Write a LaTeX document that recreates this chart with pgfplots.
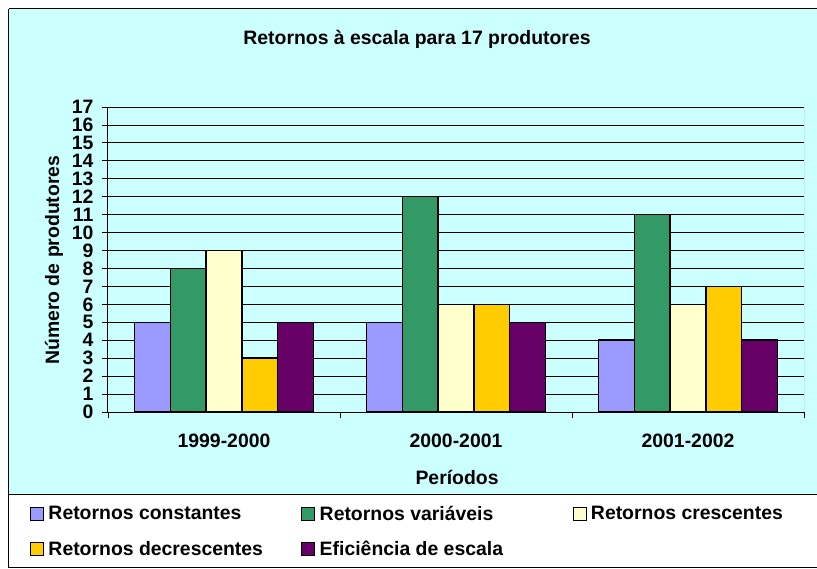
\documentclass[border=0pt]{standalone}
\usepackage{fontspec}
\setmainfont{Liberation Sans}
\usepackage{pgfplots}
\pgfplotsset{compat=1.18}
\definecolor{bg}{HTML}{CCFFFF}
\definecolor{c1}{HTML}{9999FF}
\definecolor{c2}{HTML}{339966}
\definecolor{c3}{HTML}{FFFFCC}
\definecolor{c4}{HTML}{FFCC00}
\definecolor{c5}{HTML}{660066}
\newcommand{\fs}{\fontsize{19.4}{22}\selectfont\bfseries}
\pgfplotsset{
  mybar/.style={fill=#1, draw=black, line width=1.5pt,
    legend image code/.code={\draw[fill=#1, draw=black, line width=1pt] (0pt,-6.5pt) rectangle (13pt,6.5pt); \path (15pt,0pt);}}
}
\begin{document}
\begin{tikzpicture}[x=1pt,y=1pt]
\useasboundingbox (-108,-156) rectangle (709,412);
\fill[bg] (-99,-82) rectangle (740,403);
\fill[white] (-99,-155) rectangle (740,-82);
\begin{axis}[
  at={(0,0)}, anchor=south west,
  scale only axis, width=696pt, height=305pt,
  ybar=0pt, bar width=0.154,
  xmin=0, xmax=3, ymin=0, ymax=17,
  ytick={0,...,17},
  xtick={0,1,2,3},
  x tick label as interval,
  xticklabels={1999-2000,2000-2001,2001-2002,},
  axis x line*=bottom, axis y line*=left,
  axis line style={-, black, line width=1pt},
  tick align=outside, major tick length=6pt,
  tick style={black, line width=0.8pt},
  ymajorgrids, grid style={black, line width=0.8pt},
  ticklabel style={font=\fs},
  /pgf/number format/assume math mode=true,
  yticklabel style={xshift=-5pt},
  xticklabel style={yshift=-12pt},
  title={Retornos à escala para 17 produtores},
  title style={at={(0.444,1.226)}, anchor=center, yshift=-7pt, font=\fs},
  xlabel={Períodos},
  xlabel style={at={(0.5015,-0.2066)}, anchor=center, yshift=-2pt, font=\fs},
  ylabel={Número de produtores},
  ylabel style={at={(-0.0805,0.498)}, anchor=center, yshift=-2pt, font=\fs},
  legend columns=3,
  legend cell align=left,
  legend style={at={(-0.112,-0.2885)}, anchor=north west, yshift=-4pt, draw=none, fill=none,
    font=\fs, column sep=0pt, row sep=15pt, inner sep=0pt},
]
\addplot[mybar=c1] coordinates {(0.5,5) (1.5,5) (2.5,4)};
\addlegendentry{\makebox[251pt][l]{Retornos constantes}}
\addplot[mybar=c2] coordinates {(0.5,8) (1.5,12) (2.5,11)};
\addlegendentry{\makebox[251pt][l]{Retornos variáveis}}
\addplot[mybar=c3] coordinates {(0.5,9) (1.5,6) (2.5,6)};
\addlegendentry{Retornos crescentes}
\addplot[mybar=c4] coordinates {(0.5,3) (1.5,6) (2.5,7)};
\addlegendentry{Retornos decrescentes}
\addplot[mybar=c5] coordinates {(0.5,5) (1.5,5) (2.5,4)};
\addlegendentry{Eficiência de escala}
\draw[gray, line width=1pt] (rel axis cs:1,0) -- (rel axis cs:1,1);
\end{axis}
\draw[black, line width=1pt] (-99,403) -- (-99,-155) -- (740,-155);
\draw[black, line width=1pt] (-99,403) -- (740,403);
\draw[black, line width=1pt] (-99,-82) -- (740,-82);
\end{tikzpicture}
\end{document}
